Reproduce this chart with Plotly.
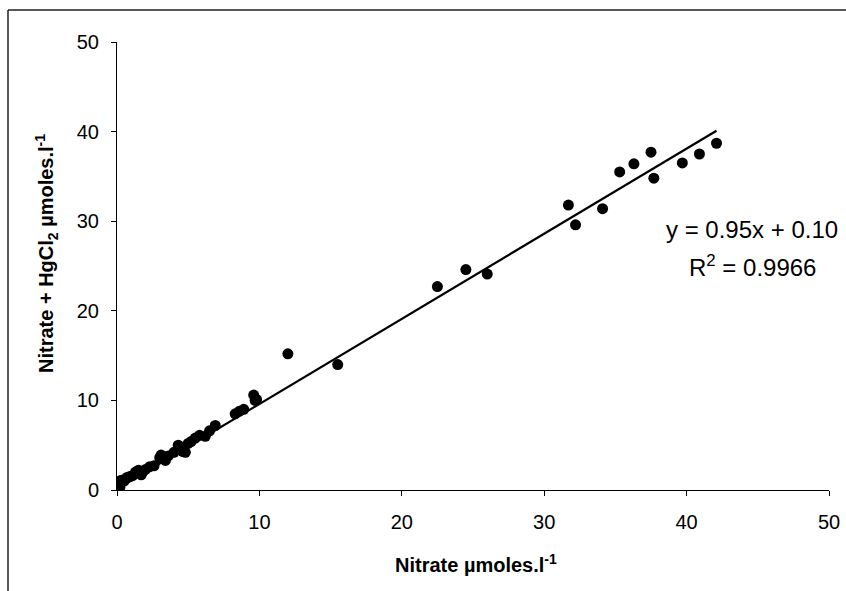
import plotly.graph_objects as go

# Data
nitrate = [0.0, 0.05, 0.1, 0.2, 0.3, 0.5, 0.7, 0.9, 1.1, 1.3, 1.5, 1.7, 1.8, 2.0,
           2.3, 2.6, 3.0, 3.1, 3.4, 3.6, 4.0, 4.3, 4.6, 4.8, 5.0, 5.2, 5.5, 5.8,
           6.2, 6.5, 6.9, 8.3, 8.6, 8.9, 9.6, 9.7, 9.8,
           12.0, 15.5, 22.5, 24.5, 26.0, 31.7, 32.2, 34.1, 35.3, 36.3, 37.5,
           37.7, 39.7, 40.9, 42.1]
nitrate_hgcl2 = [0.1, 0.4, 0.9, 0.3, 1.1, 1.0, 1.4, 1.5, 1.6, 2.0, 2.2, 1.7, 2.0, 2.3,
                 2.6, 2.7, 3.6, 3.9, 3.3, 3.8, 4.2, 5.0, 4.3, 4.2, 5.2, 5.4, 5.8, 6.1,
                 6.0, 6.6, 7.2, 8.5, 8.8, 9.0, 10.6, 10.0, 10.1,
                 15.2, 14.0, 22.7, 24.6, 24.1, 31.8, 29.6, 31.4, 35.5, 36.4, 37.7,
                 34.8, 36.5, 37.5, 38.7]

SLOPE = 0.95
INTERCEPT = 0.10
R2 = 0.9966

tick_vals = [0, 10, 20, 30, 40, 50]
tick_text = ["0", "10", "20", "30", "40", "50"]

FONT = "Liberation Sans, Arial, sans-serif"

trend_x = [0, max(nitrate)]
trend_y = [SLOPE * v + INTERCEPT for v in trend_x]

fig = go.Figure()
fig.add_trace(go.Scatter(x=trend_x, y=trend_y, mode="lines",
                         line=dict(color="black", width=2.2), showlegend=False,
                         hoverinfo="skip"))
fig.add_trace(go.Scatter(x=nitrate, y=nitrate_hgcl2, mode="markers",
                         marker=dict(color="black", size=11, line=dict(width=0)),
                         showlegend=False))

axis_common = dict(range=[0, 50], tickvals=tick_vals, ticktext=tick_text,
                   showgrid=False, zeroline=False, showline=True,
                   linecolor="black", linewidth=1, ticks="outside", ticklen=5,
                   tickcolor="black", tickwidth=1, automargin=False,
                   tickfont=dict(family=FONT, size=20, color="black"))

fig.update_layout(
    width=846, height=591, autosize=False,
    margin=dict(l=117, r=17, t=42, b=101),
    paper_bgcolor="white", plot_bgcolor="white",
    xaxis=dict(**axis_common, ticklabelstandoff=9),
    yaxis=dict(**axis_common, ticklabelstandoff=8),
    font=dict(family=FONT, color="black"),
)

# Outer frame (left and top edges visible in the reference)
pw, ph = 712.0, 448.0
def px_x(p):
    return (p - 117) / pw
def px_y(p):
    return (490 - p) / ph

fig.add_shape(type="line", xref="paper", yref="paper",
              x0=px_x(8), x1=px_x(8), y0=px_y(10), y1=px_y(600),
              line=dict(color="#222", width=1.5))
fig.add_shape(type="line", xref="paper", yref="paper",
              x0=px_x(8), x1=px_x(860), y0=px_y(10), y1=px_y(10),
              line=dict(color="#222", width=1.5))

# Axis titles
fig.add_annotation(xref="paper", yref="paper", x=px_x(476), y=px_y(563),
                   text="<b>Nitrate µmoles.l<sup>-1</sup></b>", showarrow=False,
                   font=dict(family=FONT, size=20, color="black"),
                   xanchor="center", yanchor="middle")
fig.add_annotation(xref="paper", yref="paper", x=px_x(46), y=px_y(254),
                   text="<b>Nitrate + HgCl<sub>2</sub> µmoles.l<sup>-1</sup></b>",
                   showarrow=False, textangle=-90,
                   font=dict(family=FONT, size=20, color="black"),
                   xanchor="center", yanchor="middle")

# Trendline equation
fig.add_annotation(xref="paper", yref="paper", x=px_x(752), y=px_y(229),
                   text=f"y = {SLOPE:.2f}x + {INTERCEPT:.2f}", showarrow=False,
                   font=dict(family=FONT, size=24, color="black"),
                   xanchor="center", yanchor="middle")
fig.add_annotation(xref="paper", yref="paper", x=px_x(752), y=px_y(266),
                   text=f"R<sup>2</sup> = {R2:.4f}", showarrow=False,
                   font=dict(family=FONT, size=24, color="black"),
                   xanchor="center", yanchor="middle")

fig.write_html(
    "out.html",
    config={"displayModeBar": False, "responsive": False},
    post_script="document.body.style.margin='0';document.body.style.overflow='hidden';",
)
